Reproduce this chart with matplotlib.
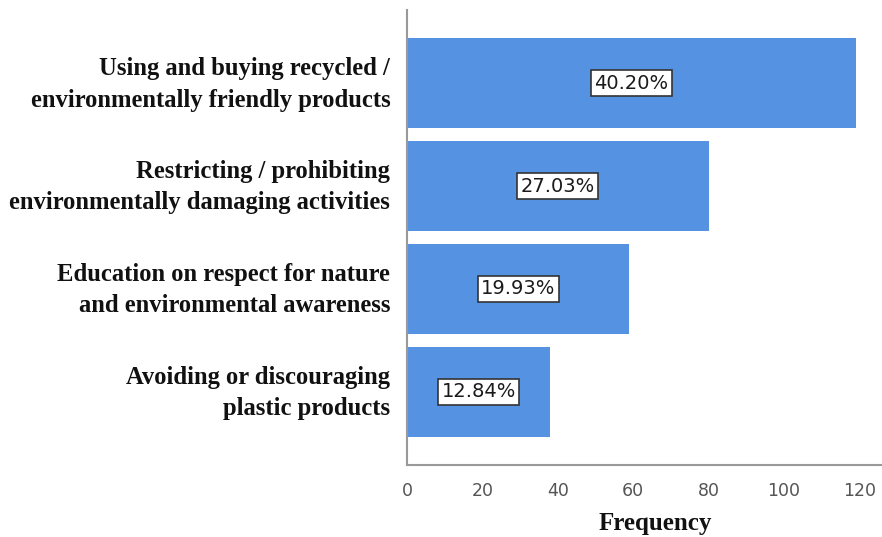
import matplotlib
matplotlib.use("Agg")
import matplotlib.pyplot as plt

categories = [
    "Using and buying recycled /\nenvironmentally friendly products",
    "Restricting / prohibiting\nenvironmentally damaging activities",
    "Education on respect for nature\nand environmental awareness",
    "Avoiding or discouraging\nplastic products",
]
frequencies = [119, 80, 59, 38]
x_ticks = [0, 20, 40, 60, 80, 100, 120]

total = sum(frequencies)
percent_labels = [f"{100 * f / total:.2f}%" for f in frequencies]

fig = plt.figure(figsize=(8.82, 5.37), dpi=100)
ax = fig.add_axes([407 / 882, 1 - 465 / 537, 1 - 407 / 882, (465 - 10) / 537])

bar_color = "#5593e2"
positions = list(range(len(categories)))
bars = ax.barh(positions, frequencies, height=0.88, color=bar_color, edgecolor="none")

ax.set_ylim(len(categories) - 1 + 0.71, -0.71)
ax.set_xlim(0, 126)

for bar, label in zip(bars, percent_labels):
    cx = bar.get_x() + bar.get_width() / 2
    cy = bar.get_y() + bar.get_height() / 2
    ax.text(cx, cy, label, ha="center", va="center", fontsize=14,
            family="DejaVu Sans", color="#1a1a1a",
            bbox=dict(boxstyle="square,pad=0.18", facecolor="white",
                      edgecolor="#333333", linewidth=1.2))

# category labels sit a touch above each bar's centre line
label_lift = 0.05
ax.set_yticks([p - label_lift for p in positions])
ax.set_yticklabels(categories, family="Liberation Serif", fontweight="bold",
                   fontsize=17.7, linespacing=1.45, color="#111111")

ax.set_xticks(x_ticks)
ax.set_xticklabels([str(t) for t in x_ticks], fontsize=12.5, color="#555555")
ax.tick_params(axis="both", length=0)
ax.tick_params(axis="x", pad=12)
ax.tick_params(axis="y", pad=12)

for side in ("top", "right"):
    ax.spines[side].set_visible(False)
for side in ("left", "bottom"):
    ax.spines[side].set_color("#999999")
    ax.spines[side].set_linewidth(1.5)

ax.set_xlabel("Frequency", family="Liberation Serif", fontweight="bold",
              fontsize=18, color="#111111")
ax.xaxis.set_label_coords((655 - 407) / (882 - 407), -(512 - 465) / (465 - 10))

fig.savefig("out.png", dpi=100)
